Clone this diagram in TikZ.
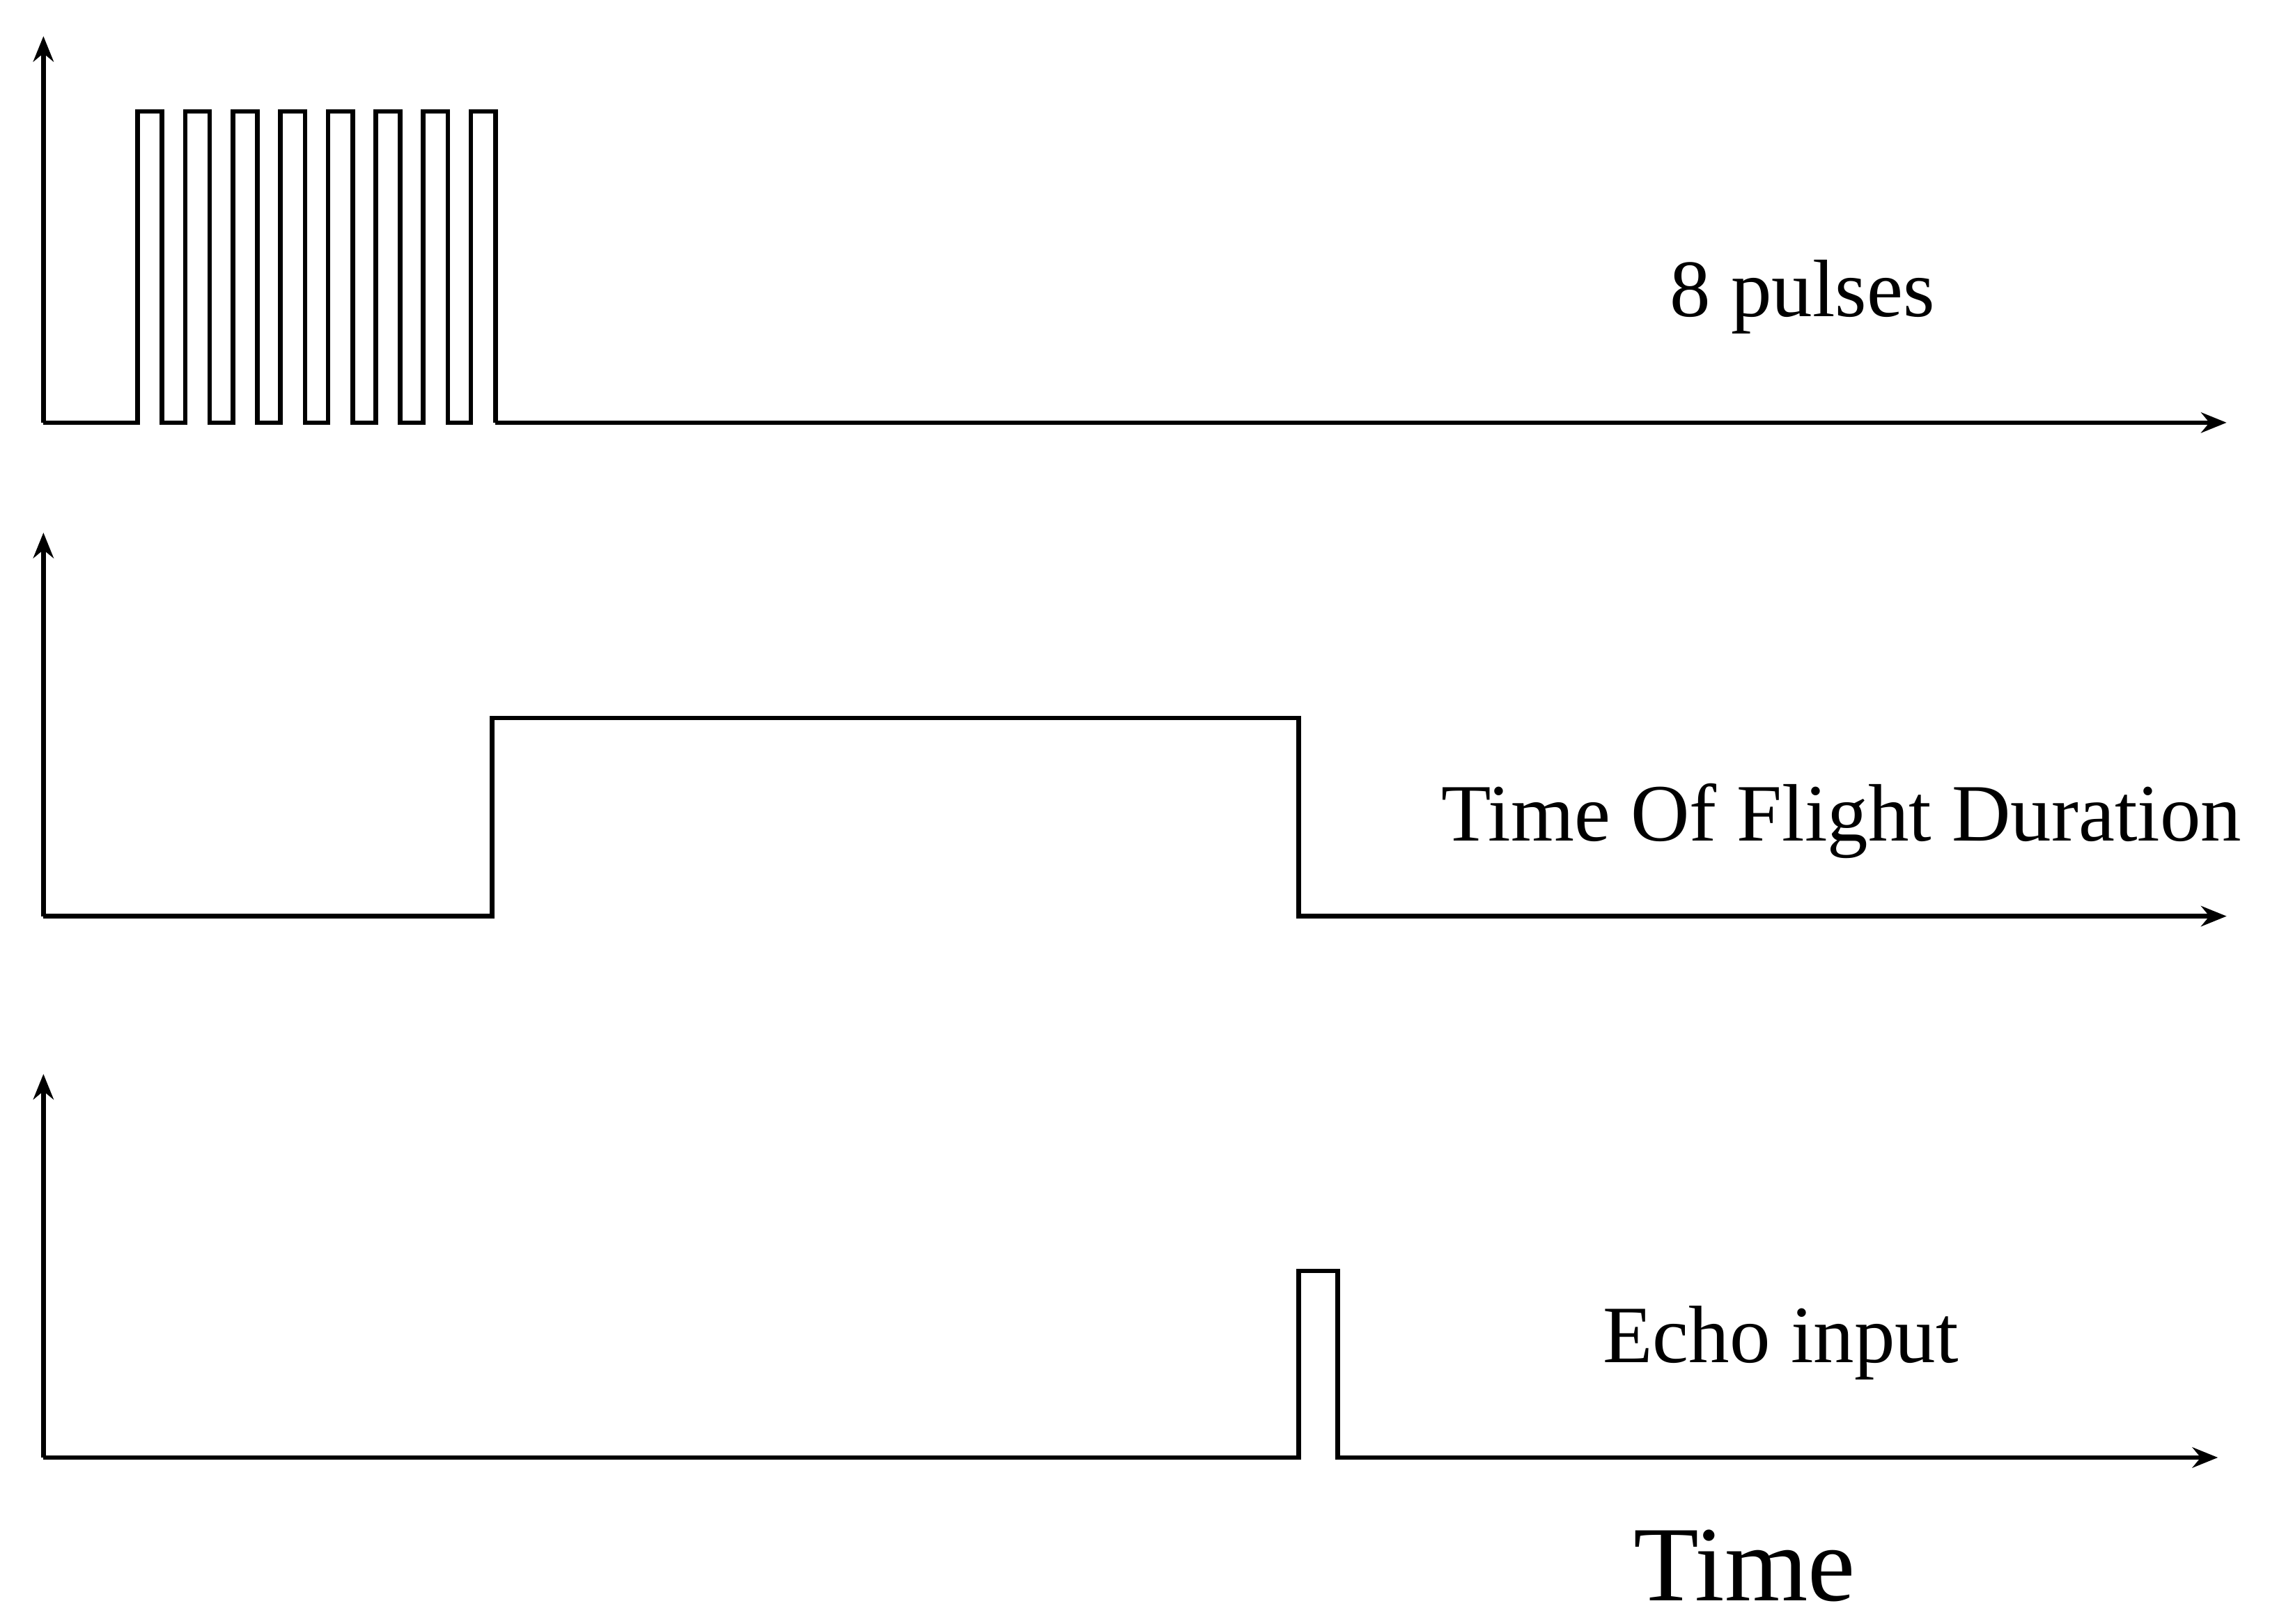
\documentclass[tikz,border=0pt]{standalone}
\usepackage{fontspec}
\setmainfont{Liberation Serif}
\usetikzlibrary{arrows.meta}
\begin{document}
\begin{tikzpicture}[x=0.01cm,y=-0.01cm,
  wave/.style={line width=0.9pt,line join=miter},
  axis/.style={line width=0.9pt,-{Stealth[length=5pt,width=4pt]}},
  lbl/.style={font=\fontsize{16}{18}\selectfont,inner sep=0pt}]
\useasboundingbox (0,0) rectangle (1568,1122);
% top
\draw[axis] (30,292) -- (30,25);
\draw[axis] (342,292) -- (1538,292);
\draw[wave] (30,292) -- (95,292)
 \foreach \i in {0,...,7}{ -- ({95+32.9*\i},292) -- ({95+32.9*\i},77) -- ({112+32.9*\i},77) -- ({112+32.9*\i},292) } -- (342,292);
\node[lbl] (p) at (1245,205) {8 pulses};
% middle
\draw[axis] (30,633) -- (30,368);
\draw[wave] (30,633) -- (340,633) -- (340,496) -- (897,496) -- (897,633) -- (1000,633);
\draw[axis] (990,633) -- (1538,633);
\node[lbl] (t) at (1272,567) {Time Of Flight Duration};
% bottom
\draw[axis] (30,1007) -- (30,742);
\draw[wave] (30,1007) -- (897,1007) -- (897,878) -- (924,878) -- (924,1007) -- (1000,1007);
\draw[axis] (990,1007) -- (1532,1007);
\node[lbl] (e) at (1230,928) {Echo input};
\node[lbl,font=\fontsize{21}{24}\selectfont] (tm) at (1205,1082) {Time};
\end{tikzpicture}
\end{document}
